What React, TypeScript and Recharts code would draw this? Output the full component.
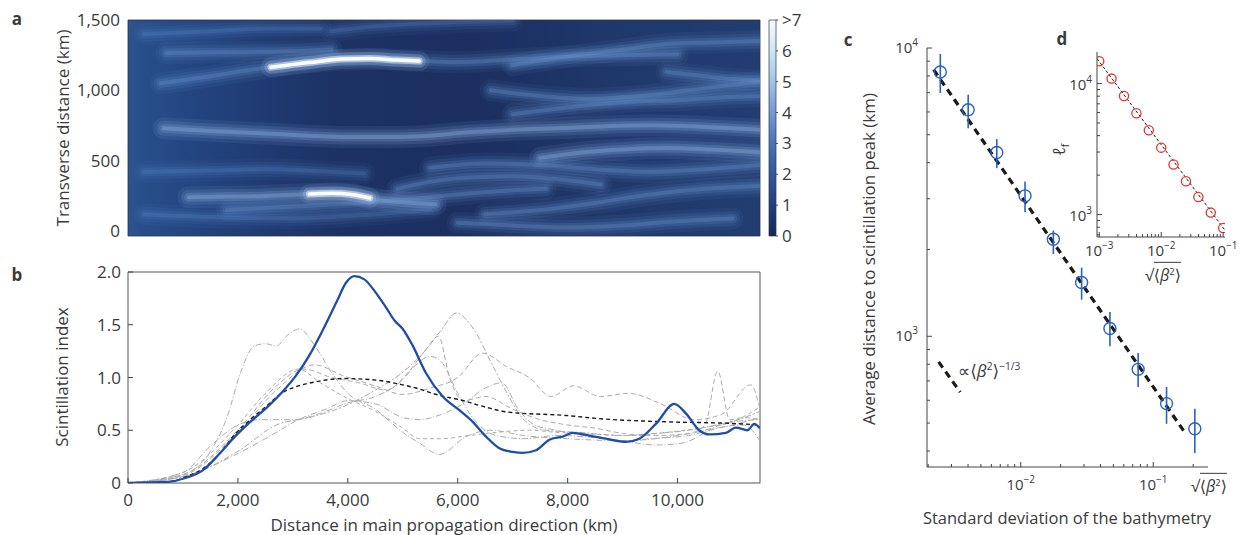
import React from 'react';
import { ComposedChart, BarChart, Bar, Line, Scatter, ErrorBar, XAxis, YAxis, ReferenceArea } from 'recharts';

const FONT = "'Open Sans', 'DejaVu Sans', sans-serif";
const TXT = '#3a3a3a';
const AX = '#444';

// ---------------- panel a: scintillation field (km, km) ----------------
const heatXDomain = [0, 11500];
const heatYDomain = [-35, 1500];
const heatYTicks = [0, 500, 1000, 1500];
const colorbarTicks = [0, 1, 2, 3, 4, 5, 6, 7];
const colorbarMax = [{ name: 'I', v: 7 }];

const streakUpperFaint = [[600,1050],[1500,1100],[2300,1150],[3100,1190],[3800,1215],[4500,1222],[5200,1212],[6000,1200],[7000,1220],[8000,1240],[9000,1250],[10000,1255]];
const streakUpperCore = [[2600,1165],[3300,1198],[3900,1222],[4400,1226],[4900,1215],[5300,1208]];
const streakTopFaint = [[700,1265],[1500,1270],[2300,1272],[3000,1278],[3700,1290]];
const streakTop = [[3700,1420],[4500,1455],[5300,1475],[6200,1488],[7000,1495]];
const streakLeftTop = [[300,1400],[1500,1420],[2500,1440],[3500,1440]];
const streakLeftMid = [[300,420],[1500,430],[2500,440],[3500,425],[4300,410]];
const streakLeftLow = [[300,120],[1500,100],[3000,90],[4500,120],[5500,150]];
const streakMiddle = [[650,730],[1500,712],[2300,697],[3200,680],[4000,668],[4800,668],[5400,676],[6200,702],[7000,720],[7900,732],[8700,745],[9500,752],[10500,740],[11500,720]];
const streakLower = [[1100,240],[1800,245],[2500,250],[3200,262],[3700,268],[4100,258],[4500,225],[5000,205],[5600,190]];
const streakLowerCore = [[3300,263],[3700,268],[4100,258],[4400,235]];
const streakLowFaint = [[1800,150],[2800,170],[3800,190],[4400,205],[5200,230],[6000,260],[6800,285],[7600,300]];
const streakG = [[4900,300],[5500,350],[6200,380],[7000,390],[7800,370],[8600,330]];
const streakH = [[7500,520],[8300,560],[9000,580],[9800,590],[10600,580],[11500,560]];
const streakI = [[7000,830],[7800,870],[8500,900],[9200,920],[10000,930],[10800,950],[11500,960]];
const streakJ = [[6600,1000],[7500,960],[8400,940],[9300,960],[10200,1000],[11000,1040],[11500,1060]];
const streakK = [[7000,1180],[8000,1240],[9000,1290],[9800,1330],[10600,1340],[11500,1350]];
const streakL = [[9800,1130],[10500,1100],[11000,1080],[11500,1070]];
const streakM = [[6000,60],[7000,40],[8000,25],[9000,40],[10000,70],[11000,90]];
const streakN = [[6500,120],[7500,150],[8500,200],[9500,260],[10500,300],[11500,320]];
const streakO = [[5500,450],[6500,480],[7500,470],[8500,440],[9500,420],[10500,440],[11500,470]];

const streaks = [
  { level: 0.3, pts: streakLeftTop },
  { level: 0.25, pts: streakLeftMid },
  { level: 0.3, pts: streakLeftLow },
  { level: 0.45, pts: streakUpperFaint },
  { level: 0.35, pts: streakTopFaint },
  { level: 0.3, pts: streakTop },
  { level: 0.55, pts: streakMiddle },
  { level: 0.6, pts: streakLower },
  { level: 0.35, pts: streakLowFaint },
  { level: 0.4, pts: streakG },
  { level: 0.55, pts: streakH },
  { level: 0.45, pts: streakI },
  { level: 0.4, pts: streakJ },
  { level: 0.45, pts: streakK },
  { level: 0.35, pts: streakL },
  { level: 0.4, pts: streakM },
  { level: 0.45, pts: streakN },
  { level: 0.35, pts: streakO },
  { level: 1, pts: streakUpperCore },
  { level: 1, pts: streakLowerCore },
];

// ---------------- panel b: scintillation index vs distance ----------------
const bXTicks = [0, 2000, 4000, 6000, 8000, 10000];
const bYTicks = [0, 0.5, 1, 1.5, 2];
const blueRun = [[0,0],[700,0.01],[1060,0.05],[1360,0.12],[1670,0.28],[1910,0.42],[2270,0.6],[2515,0.71],[2820,0.87],[3060,1.02],[3300,1.21],[3545,1.45],[3790,1.71],[3970,1.9],[4120,1.96],[4300,1.93],[4515,1.8],[4700,1.66],[4850,1.54],[5000,1.46],[5182,1.3],[5424,1.04],[5727,0.82],[6030,0.69],[6273,0.58],[6515,0.44],[6758,0.33],[7000,0.295],[7182,0.285],[7424,0.31],[7667,0.41],[7909,0.44],[8091,0.475],[8394,0.45],[8697,0.42],[9061,0.39],[9303,0.42],[9606,0.56],[9939,0.75],[10151,0.66],[10394,0.5],[10576,0.46],[10879,0.475],[11061,0.525],[11273,0.5],[11394,0.56],[11497,0.52]];
const meanRun = [[0,0],[700,0.01],[1060,0.06],[1400,0.15],[1700,0.3],[1910,0.44],[2270,0.62],[2500,0.72],[2820,0.86],[3100,0.92],[3424,0.96],[3909,0.99],[4515,0.975],[5000,0.93],[5240,0.9],[5667,0.83],[6030,0.79],[6500,0.72],[6940,0.67],[7970,0.64],[8576,0.61],[9788,0.58],[10970,0.565],[11497,0.55]];
const run1 = [[0,0],[1000,0.08],[1500,0.3],[1800,0.62],[2050,1.05],[2300,1.3],[2500,1.32],[2700,1.3],[2900,1.4],[3120,1.46],[3400,1.3],[3700,1.05],[4000,0.85],[4500,0.7],[5000,0.48],[5300,0.38],[5667,0.27],[6150,0.44],[6600,0.5],[7200,0.45],[8000,0.42],[9000,0.4],[10000,0.45],[10500,0.5],[11000,0.58],[11500,0.6]];
const run2 = [[0,0],[1000,0.06],[2000,0.3],[2700,0.55],[3300,0.62],[3900,0.72],[4500,0.88],[5000,1.05],[5400,1.25],[5700,1.45],[5970,1.61],[6300,1.45],[6600,1.15],[6900,0.85],[7200,0.6],[7600,0.5],[8200,0.48],[9000,0.45],[9600,0.47],[10200,0.5],[10700,0.55],[11100,0.6],[11500,0.68]];
const run3 = [[0,0],[1000,0.08],[2000,0.5],[2700,0.92],[3200,1.08],[3700,1.0],[4200,0.95],[4700,0.88],[5100,1.05],[5400,1.25],[5650,1.39],[5850,1.0],[6100,0.78],[6500,0.82],[7000,0.7],[7500,0.6],[8000,0.55],[8500,0.52],[9000,0.47],[9600,0.45],[10200,0.47],[10500,0.55],[10730,1.06],[10950,0.6],[11200,0.62],[11500,0.6]];
const run4 = [[0,0],[1000,0.07],[2000,0.48],[2700,0.88],[3400,1.12],[3900,1.02],[4500,0.92],[5000,0.84],[5500,0.9],[6000,1.0],[6450,1.23],[6900,1.1],[7300,1.0],[7700,0.82],[8100,0.92],[8600,0.82],[9100,0.85],[9700,0.75],[10300,0.6],[10800,0.65],[11333,0.93],[11500,0.7]];
const run5 = [[0,0],[1000,0.06],[2000,0.28],[2600,0.45],[3100,0.6],[3600,0.7],[4000,0.78],[4500,0.75],[5000,0.62],[5300,0.6],[5700,0.65],[6100,0.75],[6500,0.9],[6800,0.95],[7100,0.7],[7400,0.55],[7800,0.5],[8300,0.45],[9000,0.4],[9600,0.36],[10100,0.38],[10600,0.5],[11000,0.55],[11500,0.62]];
const run6 = [[0,0],[1000,0.1],[2000,0.55],[2500,0.85],[3100,1.08],[3500,0.95],[4000,0.8],[4500,0.68],[5000,0.52],[5300,0.42],[5700,0.42],[6200,0.45],[6700,0.48],[7300,0.5],[7800,0.48],[8500,0.46],[9200,0.45],[9800,0.48],[10400,0.52],[11000,0.58],[11500,0.72]];
const run7 = [[0,0],[1000,0.1],[1500,0.35],[2000,0.55],[2400,0.6],[3000,0.6],[3500,0.66],[4000,0.76],[4500,0.82],[5000,0.98],[5200,1.1],[5500,1.2],[5700,1.15],[6000,0.85],[6300,0.6],[6700,0.45],[7200,0.42],[7800,0.45],[8500,0.43],[9000,0.4],[9500,0.42],[10200,0.45],[10700,0.52],[11200,0.55],[11500,0.4]];
const grayRuns = [run1, run2, run3, run4, run5, run6, run7];
const grayDash = ['6 2 1 2', '2 2 6 2', '5 3', '5 3', '6 2 1 2', '4 3', '6 2 1 2'];

// ---------------- panel c: distance to peak vs bathymetry std ----------------
const cX = [0.00247, 0.00401, 0.00659, 0.01077, 0.01762, 0.0288, 0.0471, 0.0769, 0.126, 0.206];
const cY = [8260, 6110, 4340, 3070, 2170, 1537, 1064, 768, 584, 478];
const cLo = [6980, 5270, 3830, 2700, 1930, 1340, 923, 667, 497, 394];
const cHi = [9530, 6890, 4830, 3440, 2330, 1730, 1215, 875, 667, 561];
const cFit = [[0.0022, 8410], [0.173, 464]];
const cLegendSeg = [[0.0024, 815], [0.00349, 640]];
const cXDomain = [0.00196, 0.259];
const cYDomain = [352, 10000];
const cXTicks = [0.002,0.003,0.004,0.005,0.006,0.007,0.008,0.009,0.01,0.02,0.03,0.04,0.05,0.06,0.07,0.08,0.09,0.1,0.2];
const cYTicks = [400,500,600,700,800,900,1000,2000,3000,4000,5000,6000,7000,8000,9000,10000];
const cXLabels = [0.01, 0.1];
const cYLabels = [1000, 10000];

// ---------------- panel d: l_f vs bathymetry std ----------------
const dX = [0.001, 0.00158, 0.00251, 0.00398, 0.00631, 0.01, 0.0158, 0.0251, 0.0398, 0.0631, 0.1];
const dY = [14800, 10900, 8040, 5930, 4400, 3240, 2410, 1795, 1362, 1035, 790];
const dFit = [[0.00092, 15500], [0.107, 759]];
const dXDomain = [0.00092, 0.107];
const dYDomain = [674, 17400];
const dXTicks = [0.001,0.002,0.003,0.004,0.005,0.006,0.007,0.008,0.009,0.01,0.02,0.03,0.04,0.05,0.06,0.07,0.08,0.09,0.1];
const dYTicks = [700,800,900,1000,2000,3000,4000,5000,6000,7000,8000,9000,10000];
const dXLabels = [0.001, 0.01, 0.1];
const dYLabels = [1000, 10000];

// ---------------- helpers ----------------
const toXY = (pts: number[][]) => pts.map(([x, y]) => ({ x, y }));
const isPow10 = (v: number) => Math.abs(Math.log10(v) - Math.round(Math.log10(v))) < 1e-6;
const expStr = (v: number) => { const e = Math.round(Math.log10(v)); return e < 0 ? '\u2212' + Math.abs(e) : String(e); };
const inList = (list: number[], v: number) => list.some((l) => Math.abs(l - v) / l < 1e-6);

// glow layers [width, opacity, colour] for a streak of a given level
const glowLayers = (lv: number): [number, number, string][] =>
  lv >= 0.9
    ? [[20, 0.14, '#8fb6e6'], [13, 0.28, '#a8c8ee'], [7, 0.6, '#dceafa'], [3.5, 0.95, '#ffffff']]
    : lv >= 0.5
    ? [[22, 0.1, '#8ab0e2'], [15, 0.15, '#8ab0e2'], [9, 0.22, '#8ab0e2'], [4, 0.3, '#9dbde8']]
    : lv >= 0.35
    ? [[22, 0.08, '#6a95d2'], [15, 0.12, '#6a95d2'], [9, 0.18, '#6a95d2'], [4, 0.24, '#7ba2d8']]
    : [[22, 0.07, '#5a86c6'], [15, 0.1, '#5a86c6'], [9, 0.15, '#5a86c6'], [4, 0.2, '#6a93cf']];

function makeLogTick(orient: 'x' | 'y', labels: number[], off: number, base: number) {
  return (p: any) => {
    const v = p.payload.value;
    const major = isPow10(v);
    const len = major ? 5 : 3;
    const show = inList(labels, v);
    if (orient === 'x') {
      return (
        <g>
          <line x1={p.x} x2={p.x} y1={p.y} y2={p.y - len} stroke={AX} strokeWidth={1} />
          {show && (
            <text x={p.x} y={p.y + off} textAnchor="middle" fontSize={15} fontFamily={FONT} fill={TXT}>
              10<tspan dy={-7} fontSize={10}>{expStr(v)}</tspan>
            </text>
          )}
        </g>
      );
    }
    return (
      <g>
        <line x1={p.x} x2={p.x + len} y1={p.y} y2={p.y} stroke={AX} strokeWidth={1} />
        {show && (
          <text x={p.x - off} y={p.y + base} textAnchor="end" fontSize={15} fontFamily={FONT} fill={TXT}>
            10<tspan dy={-7} fontSize={10}>{expStr(v)}</tspan>
          </text>
        )}
      </g>
    );
  };
}

const bXTick = (p: any) => (
  <g>
    <line x1={p.x} x2={p.x} y1={p.y} y2={p.y - 5} stroke={AX} strokeWidth={1} />
    <text x={p.x} y={p.y + 23} textAnchor="middle" fontSize={17} fontFamily={FONT} fill={TXT}>
      {p.payload.value.toLocaleString('en-US')}
    </text>
  </g>
);
const bYTick = (p: any) => (
  <g>
    <line x1={p.x} x2={p.x + 5} y1={p.y} y2={p.y} stroke={AX} strokeWidth={1} />
    <text x={p.x - 7} y={p.y + 6} textAnchor="end" fontSize={17} fontFamily={FONT} fill={TXT}>
      {p.payload.value === 0 ? '0' : p.payload.value.toFixed(1)}
    </text>
  </g>
);

const ring = (color: string, r: number, sw: number) => (p: any) =>
  <circle cx={p.cx} cy={p.cy} r={r} fill="none" stroke={color} strokeWidth={sw} />;

const Txt = ({ x, y, children, size = 17, rotate = false, anchor = 'middle', weight = 400, style = {} }: any) => (
  <div
    style={{
      position: 'absolute',
      left: x,
      top: y,
      transform: `translate(${anchor === 'middle' ? '-50%' : anchor === 'end' ? '-100%' : '0'}, -50%)${rotate ? ' rotate(-90deg)' : ''}`,
      fontSize: size,
      fontFamily: FONT,
      color: TXT,
      whiteSpace: 'nowrap',
      lineHeight: 1,
      fontWeight: weight,
      ...style,
    }}
  >
    {children}
  </div>
);

const SqrtBeta = () => (
  <span>
    {'\u221A'}
    <span style={{ borderTop: '1px solid #3a3a3a', paddingTop: 1 }}>
      {'\u27E8'}<i>{'\u03B2'}</i><sup style={{ fontSize: '0.6em' }}>2</sup>{'\u27E9'}
    </span>
  </span>
);

export default function App() {
  const cData = cX.map((x, i) => ({ x, y: cY[i], err: [cY[i] - cLo[i], cHi[i] - cY[i]] }));
  const dData = dX.map((x, i) => ({ x, y: dY[i] }));

  const streakLines: any[] = [];
  streaks.forEach((s, i) => {
    glowLayers(s.level).forEach(([w, o, c], j) => {
      streakLines.push(
        <Line
          key={`s${i}_${j}`}
          data={toXY(s.pts)}
          dataKey="y"
          type="monotone"
          stroke={c}
          strokeWidth={w}
          strokeOpacity={o}
          strokeLinecap="round"
          dot={false}
          activeDot={false}
          isAnimationActive={false}
        />
      );
    });
  });

  return (
    <div style={{ position: 'absolute', left: 0, top: 0, width: 1244, height: 535, background: '#fff', overflow: 'hidden' }}>
      {/* panel a */}
      <div style={{ position: 'absolute', left: 0, top: 0 }}>
        <ComposedChart width={770} height={245} margin={{ top: 20, right: 10, bottom: 9, left: 0 }}>
          <defs>
            <linearGradient id="heatBg" x1="0" y1="0" x2="1" y2="0">
              <stop offset="0" stopColor="#2c5691" />
              <stop offset="0.02" stopColor="#284f8b" />
              <stop offset="0.12" stopColor="#22437e" />
              <stop offset="0.32" stopColor="#1c3265" />
              <stop offset="0.55" stopColor="#1b2f60" />
              <stop offset="0.78" stopColor="#1f386c" />
              <stop offset="1" stopColor="#213d72" />
            </linearGradient>
          </defs>
          <XAxis type="number" dataKey="x" domain={heatXDomain} hide allowDataOverflow />
          <YAxis
            type="number"
            dataKey="y"
            width={128}
            domain={heatYDomain}
            ticks={heatYTicks}
            allowDataOverflow
            interval={0}
            axisLine={false}
            tickLine={false}
            tickSize={0}
            tickMargin={8}
            tickFormatter={(v: number) => v.toLocaleString('en-US')}
            tick={{ fontSize: 17, fontFamily: FONT, fill: TXT }}
          />
          <ReferenceArea x1={heatXDomain[0]} x2={heatXDomain[1]} y1={heatYDomain[0]} y2={heatYDomain[1]} fill="url(#heatBg)" fillOpacity={1} stroke="none" />
          {streakLines}
          <ReferenceArea x1={heatXDomain[0]} x2={heatXDomain[1]} y1={heatYDomain[0]} y2={heatYDomain[1]} fill="none" stroke="#333" strokeWidth={0.8} />
        </ComposedChart>
      </div>

      {/* colorbar */}
      <div style={{ position: 'absolute', left: 760, top: 0 }}>
        <BarChart width={60} height={255} data={colorbarMax} margin={{ top: 20, right: 0, bottom: 19, left: 9 }} barCategoryGap={0}>
          <defs>
            <linearGradient id="cbGrad" x1="0" y1="0" x2="0" y2="1">
              <stop offset="0" stopColor="#f6fbff" />
              <stop offset="0.14" stopColor="#cfe5f5" />
              <stop offset="0.29" stopColor="#9ec3ea" />
              <stop offset="0.43" stopColor="#7099d4" />
              <stop offset="0.57" stopColor="#4a74ba" />
              <stop offset="0.71" stopColor="#30599f" />
              <stop offset="0.86" stopColor="#21407f" />
              <stop offset="1" stopColor="#16265a" />
            </linearGradient>
          </defs>
          <XAxis dataKey="name" hide />
          <YAxis
            orientation="right"
            width={44}
            domain={[0, 7]}
            ticks={colorbarTicks}
            interval={0}
            axisLine={false}
            tickLine={{ stroke: '#444' }}
            tickSize={2}
            tickMargin={4}
            tickFormatter={(v: number) => (v === 7 ? '>7' : String(v))}
            tick={{ fontSize: 17, fontFamily: FONT, fill: TXT }}
          />
          <Bar dataKey="v" fill="url(#cbGrad)" stroke="#333" strokeWidth={0.7} isAnimationActive={false} />
        </BarChart>
      </div>

      {/* panel b */}
      <div style={{ position: 'absolute', left: 0, top: 250 }}>
        <ComposedChart width={770} height={285} margin={{ top: 22, right: 10, bottom: 0, left: 0 }}>
          <XAxis
            type="number"
            dataKey="x"
            domain={[0, 11500]}
            ticks={bXTicks}
            interval={0}
            height={52}
            allowDataOverflow
            axisLine={false}
            tickLine={false}
            tickSize={0}
            tickMargin={0}
            tick={bXTick}
          />
          <YAxis
            type="number"
            dataKey="y"
            width={128}
            domain={[0, 2]}
            ticks={bYTicks}
            interval={0}
            allowDataOverflow
            axisLine={false}
            tickLine={false}
            tickSize={0}
            tickMargin={0}
            tick={bYTick}
          />
          {grayRuns.map((r, i) => (
            <Line
              key={'g' + i}
              data={toXY(r)}
              dataKey="y"
              type="monotone"
              stroke="#ababab"
              strokeWidth={1}
              strokeDasharray={grayDash[i]}
              dot={false}
              activeDot={false}
              isAnimationActive={false}
            />
          ))}
          <Line data={toXY(meanRun)} dataKey="y" type="monotone" stroke="#1a1a1a" strokeWidth={1.4} strokeDasharray="4 3" dot={false} activeDot={false} isAnimationActive={false} />
          <Line data={toXY(blueRun)} dataKey="y" type="monotone" stroke="#1f4ea6" strokeWidth={2.3} dot={false} activeDot={false} isAnimationActive={false} />
          <ReferenceArea x1={0} x2={11500} y1={0} y2={2} fill="none" stroke="#555" strokeWidth={1} />
        </ComposedChart>
      </div>

      {/* panel c */}
      <div style={{ position: 'absolute', left: 830, top: 0 }}>
        <ComposedChart width={414} height={535} margin={{ top: 48, right: 36, bottom: 48, left: 0 }}>
          <XAxis
            type="number"
            dataKey="x"
            scale="log"
            domain={cXDomain}
            ticks={cXTicks}
            interval={0}
            height={20}
            allowDataOverflow
            axisLine={{ stroke: AX }}
            tickLine={false}
            tickSize={0}
            tickMargin={0}
            tick={makeLogTick('x', cXLabels, 23, 0)}
          />
          <YAxis
            type="number"
            dataKey="y"
            scale="log"
            domain={cYDomain}
            ticks={cYTicks}
            interval={0}
            width={97}
            allowDataOverflow
            axisLine={{ stroke: AX }}
            tickLine={false}
            tickSize={0}
            tickMargin={0}
            tick={makeLogTick('y', cYLabels, 9, 5)}
          />
          <Line data={toXY(cFit)} dataKey="y" stroke="#1a1a1a" strokeWidth={3.2} strokeDasharray="7 5" dot={false} activeDot={false} isAnimationActive={false} />
          <Line data={toXY(cLegendSeg)} dataKey="y" stroke="#1a1a1a" strokeWidth={3.2} strokeDasharray="7 5" dot={false} activeDot={false} isAnimationActive={false} />
          <Scatter data={cData} shape={ring('#2a62c0', 6, 1.4)} isAnimationActive={false}>
            <ErrorBar dataKey="err" direction="y" width={0} stroke="#2a62c0" strokeWidth={1.6} />
          </Scatter>
        </ComposedChart>
      </div>

      {/* panel d (inset) */}
      <div style={{ position: 'absolute', left: 1040, top: 30 }}>
        <ComposedChart width={200} height={260} margin={{ top: 22, right: 15, bottom: 33, left: 0 }}>
          <XAxis
            type="number"
            dataKey="x"
            scale="log"
            domain={dXDomain}
            ticks={dXTicks}
            interval={0}
            height={20}
            allowDataOverflow
            axisLine={{ stroke: AX }}
            tickLine={false}
            tickSize={0}
            tickMargin={0}
            tick={makeLogTick('x', dXLabels, 19, 0)}
          />
          <YAxis
            type="number"
            dataKey="y"
            scale="log"
            domain={dYDomain}
            ticks={dYTicks}
            interval={0}
            width={57}
            allowDataOverflow
            axisLine={{ stroke: AX }}
            tickLine={false}
            tickSize={0}
            tickMargin={0}
            tick={makeLogTick('y', dYLabels, 5, 6)}
          />
          <Line data={toXY(dFit)} dataKey="y" stroke="#222" strokeWidth={1} strokeDasharray="3 2" dot={false} activeDot={false} isAnimationActive={false} />
          <Scatter data={dData} shape={ring('#e8332a', 4.6, 1.3)} isAnimationActive={false} />
        </ComposedChart>
      </div>

      {/* texts */}
      <Txt x={17} y={18} weight={700}>a</Txt>
      <Txt x={17} y={274} weight={700}>b</Txt>
      <Txt x={848} y={39} weight={700}>c</Txt>
      <Txt x={1062} y={38} weight={700}>d</Txt>
      <Txt x={62} y={128} rotate>Transverse distance (km)</Txt>
      <Txt x={61} y={377} rotate>Scintillation index</Txt>
      <Txt x={444} y={524}>Distance in main propagation direction (km)</Txt>
      <Txt x={868} y={259} rotate>Average distance to scintillation peak (km)</Txt>
      <Txt x={1067} y={518} size={16.5}>Standard deviation of the bathymetry</Txt>
      <Txt x={958} y={370} anchor="start" size={17}>
        {'\u221D\u27E8'}<i>{'\u03B2'}</i><sup style={{ fontSize: '0.6em' }}>2</sup>{'\u27E9'}<sup style={{ fontSize: '0.6em' }}>{'\u22121/3'}</sup>
      </Txt>
      <Txt x={1209} y={486} size={16}><SqrtBeta /></Txt>
      <Txt x={1163} y={275} size={16}><SqrtBeta /></Txt>
      <Txt x={1060} y={150} rotate size={17}>
        <i>{'\u2113'}</i><sub style={{ fontSize: '0.6em' }}>f</sub>
      </Txt>
    </div>
  );
}
